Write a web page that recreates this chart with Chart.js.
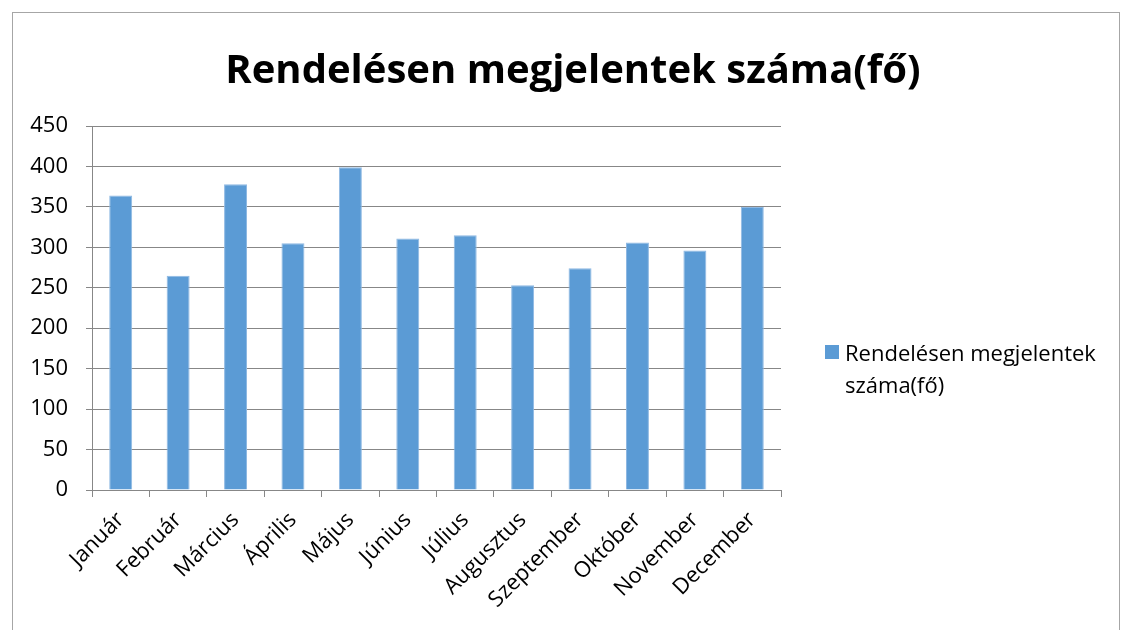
<!DOCTYPE html>
<html>
<head>
<meta charset="utf-8">
<script src="https://cdn.jsdelivr.net/npm/chart.js@4.4.0/dist/chart.umd.min.js"></script>
<style>
  body { margin: 0; background: #fff; }
  #wrap { position: relative; width: 1125px; height: 630px; overflow: hidden; }
  #frame { position: absolute; left: 12px; top: 12px; width: 1108px; height: 640px; border: 1px solid #a6a6a6; box-sizing: border-box; }
  #title { position: absolute; left: 0; top: 40px; width: 1146px; text-align: center; font: bold 40px "Open Sans", sans-serif; color: #000; }
  #legend { position: absolute; left: 825px; top: 336px; width: 290px; font: 22px "Open Sans", sans-serif; color: #000; line-height: 32px; }
  #legend .box { display: inline-block; width: 14px; height: 14px; background: #5b9bd5; margin-right: 6px; vertical-align: top; margin-top: 9px; }
  #legend .txt { display: inline-block; vertical-align: top; width: 270px; }
  canvas { position: absolute; left: 0; top: 0; }
</style>
</head>
<body>
<div id="wrap">
  <div id="frame"></div>
  <canvas id="chart" width="1125" height="630"></canvas>
  <div id="title"></div>
  <div id="legend"></div>
</div>
<script>
  const chartTitle = 'Rendelésen megjelentek száma(fő)';
  const seriesName = 'Rendelésen megjelentek száma(fő)';
  const months = ['Január', 'Február', 'Március', 'Április', 'Május', 'Június',
    'Július', 'Augusztus', 'Szeptember', 'Október', 'November', 'December'];
  const visitors = [364, 265, 378, 305, 399, 311, 315, 253, 274, 306, 296, 350];
  const yTicks = [0, 50, 100, 150, 200, 250, 300, 350, 400, 450];

  const barColor = '#5b9bd5';

  document.getElementById('title').textContent = chartTitle;
  document.getElementById('legend').innerHTML =
    '<span class="box"></span><span class="txt">' + seriesName + '</span>';

  const ctx = document.getElementById('chart').getContext('2d');
  new Chart(ctx, {
    type: 'bar',
    data: {
      labels: months,
      datasets: [{
        label: seriesName,
        data: visitors,
        backgroundColor: barColor,
        borderColor: '#8fb9e3',
        borderWidth: 1,
        barPercentage: 0.4,
        categoryPercentage: 1.0
      }]
    },
    options: {
      responsive: false,
      animation: false,
      layout: { padding: { left: 0, right: 344, top: 126, bottom: 0 } },
      plugins: {
        legend: { display: false },
        tooltip: { enabled: false },
        title: { display: false }
      },
      scales: {
        x: {
          afterFit: (axis) => { axis.height = 140; },
          grid: { drawOnChartArea: false, color: '#878787', tickLength: 7, offset: true },
          border: { color: '#878787' },
          ticks: {
            color: '#000',
            font: { family: 'Open Sans', size: 22 },
            maxRotation: 45,
            minRotation: 45,
            padding: 10
          }
        },
        y: {
          min: 0,
          max: 450,
          afterBuildTicks: (axis) => { axis.ticks = yTicks.map(v => ({ value: v })); },
          afterFit: (axis) => { axis.width = 92; },
          grid: { color: '#878787', tickLength: 6 },
          border: { color: '#878787' },
          ticks: {
            color: '#000',
            font: { family: 'Open Sans', size: 22 },
            padding: 18
          }
        }
      }
    }
  });
</script>
</body>
</html>
